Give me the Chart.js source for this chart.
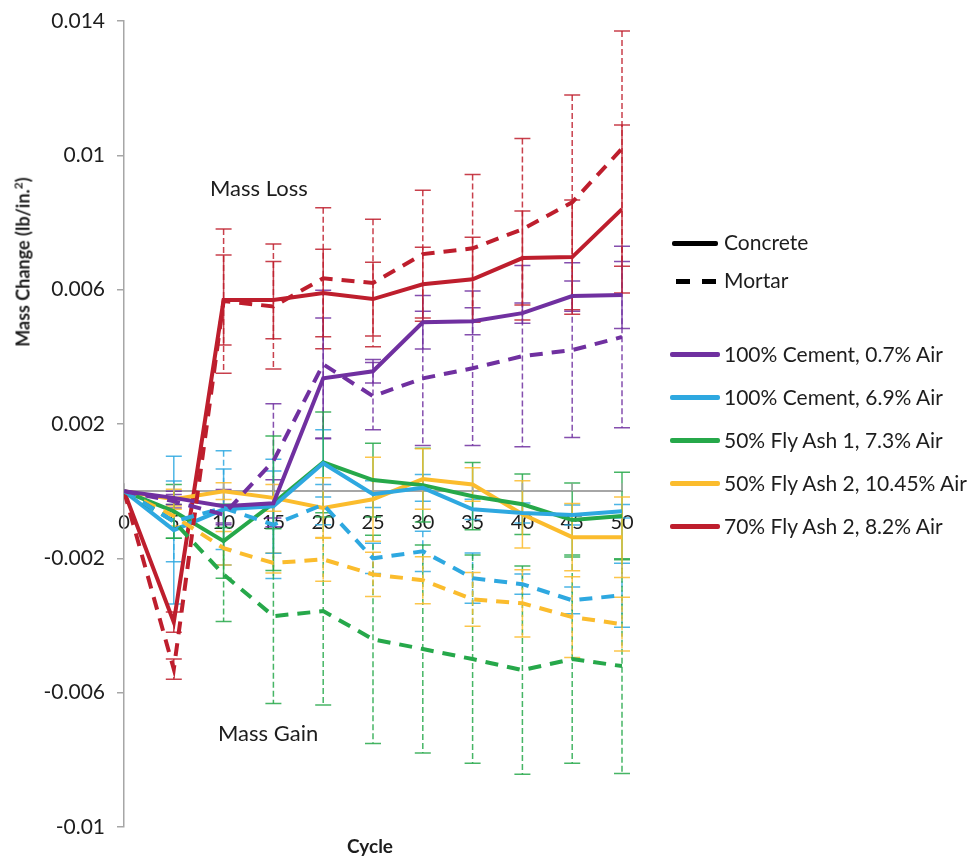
<!DOCTYPE html>
<html>
<head>
<meta charset="utf-8">
<script src="https://cdn.jsdelivr.net/npm/chart.js@4.4.1/dist/chart.umd.min.js"></script>
<style>
  body { margin: 0; background: #fff; font-family: Lato, sans-serif; color: #1d1d1d; }
  #wrap { position: relative; width: 974px; height: 858px; }
  .lbl { position: absolute; white-space: nowrap; font-size: 21px; }
  .key { position: absolute; height: 5px; border-radius: 2px; }
</style>
</head>
<body>
<div id="wrap">
  <canvas id="chart" width="974" height="858"></canvas>
  <div class="lbl" style="left:210px; top:174px; font-size:22px;">Mass Loss</div>
  <div class="lbl" style="left:218px; top:719px; font-size:22px;">Mass Gain</div>
  <div class="lbl" style="left:347px; top:834px; font-weight:bold; font-size:19px;">Cycle</div>
  <div class="lbl" id="ytitle" style="left:22px; top:262px; font-weight:bold; font-size:18px; transform: translate(-50%,-50%) rotate(-90deg);">Mass Change (lb/in.<sup style="font-size:12px">2</sup>)</div>
  <div id="legend"></div>
</div>
<script>
// cycles
const cycles = [0, 5, 10, 15, 20, 25, 30, 35, 40, 45, 50];

const mixes = ['100% Cement, 0.7% Air', '100% Cement, 6.9% Air', '50% Fly Ash 1, 7.3% Air', '50% Fly Ash 2, 10.45% Air', '70% Fly Ash 2, 8.2% Air'];
const colors = ['#7030A0', '#2EA8E0', '#26A84A', '#FBBC2D', '#BE1E2D'];

// concrete (solid) mass change, lb/in.^2
const concC07 = [0, -0.0002, -0.00045, -0.00036, 0.00336, 0.00357, 0.00503, 0.00506, 0.0053, 0.00581, 0.00584];
const concC69 = [0, -0.00116, -0.00054, -0.00045, 0.00083, -0.00009, 0.0001, -0.00054, -0.00065, -0.00071, -0.0006];
const concFA1 = [0, -0.0006, -0.00149, -0.00036, 0.00086, 0.00033, 0.00018, -0.00015, -0.00039, -0.00086, -0.00074];
const concFA2 = [0, -0.00024, 0, -0.0002, -0.0005, -0.00024, 0.00036, 0.0002, -0.00069, -0.00137, -0.00137];
const concFA70 = [0, -0.0039, 0.00569, 0.00569, 0.0059, 0.00572, 0.00616, 0.00631, 0.00694, 0.00697, 0.0084];

// concrete error bars (+/-)
const errC07 = [0, 0.0002, 0.0005, 0.0007, 0.0018, 0.00035, 0.0008, 0.0004, 0.0003, 0.00045, 0.001];
const errC69 = [0, 0.0022, 0.0012, 0.0014, 0.001, 0.0004, 0.0004, 0.0003, 0.0003, 0.0003, 0.0002];
const errFA1 = [0, 0.0008, 0.0011, 0.002, 0.0015, 0.0011, 0.0011, 0.001, 0.0009, 0.0011, 0.0013];
const errFA2 = [0, 0.0003, 0.00025, 0.0004, 0.0009, 0.00125, 0.0009, 0.0005, 0.001, 0.001, 0.0012];
const errFA70 = [0, 0.0003, 0.00134, 0.00115, 0.0013, 0.0011, 0.0011, 0.00125, 0.0014, 0.0017, 0.0025];

// mortar (dashed)
const mortC07 = [0, -0.0003, -0.0007, 0.0009, 0.00378, 0.00283, 0.00336, 0.00366, 0.00402, 0.0042, 0.00459];
const mortC69 = [0, -0.0009, -0.0005, -0.001, -0.0004, -0.002, -0.00179, -0.00259, -0.00277, -0.00325, -0.0031];
const mortFA1 = [0, -0.0009, -0.00248, -0.00372, -0.00357, -0.00441, -0.0047, -0.005, -0.00533, -0.005, -0.00521];
const mortFA2 = [0, -0.00074, -0.0017, -0.00214, -0.00203, -0.00248, -0.00265, -0.00322, -0.00334, -0.00375, -0.00396];
const mortFA70 = [0, -0.0053, 0.00566, 0.0055, 0.00634, 0.0062, 0.00706, 0.00723, 0.0078, 0.0086, 0.0102];

const errMC07 = [0, 0.0002, 0.0003, 0.0017, 0.0022, 0.001, 0.002, 0.0023, 0.0027, 0.0026, 0.0027];
const errMC69 = [0, 0.0012, 0.0017, 0.0016, 0.0006, 0.00045, 0.0006, 0.00075, 0.0003, 0.0004, 0.00095];
const errMFA1 = [0, 0.0005, 0.0014, 0.0026, 0.0028, 0.0031, 0.0031, 0.0031, 0.0031, 0.0031, 0.0032];
const errMFA2 = [0, 0.0003, 0.0005, 0.0003, 0.00065, 0.00066, 0.0007, 0.0008, 0.001, 0.0012, 0.0008];
const errMFA70 = [0, 0.0003, 0.00215, 0.00186, 0.0021, 0.0019, 0.0019, 0.0022, 0.0027, 0.0032, 0.0035];

// y axis ticks
const yTicks = [-0.01, -0.006, -0.002, 0.002, 0.006, 0.01, 0.014];

const concrete = [concC07, concC69, concFA1, concFA2, concFA70];
const concErr = [errC07, errC69, errFA1, errFA2, errFA70];
const mortar = [mortC07, mortC69, mortFA1, mortFA2, mortFA70];
const mortErr = [errMC07, errMC69, errMFA1, errMFA2, errMFA70];

const pts = arr => arr.map((v, i) => ({ x: cycles[i], y: v }));

const datasets = [];
mixes.forEach((m, i) => {
    datasets.push({ label: m + ' (mortar)', data: pts(mortar[i]), errors: mortErr[i], borderColor: colors[i],
        borderDash: [13, 9], borderWidth: 4, pointRadius: 0, tension: 0 });
});
mixes.forEach((m, i) => {
    datasets.push({ label: m + ' (concrete)', data: pts(concrete[i]), errors: concErr[i], borderColor: colors[i],
        borderWidth: 4, pointRadius: 0, tension: 0 });
});

// error bars + upward x tick marks
const errorBars = {
    id: 'errorBars',
    beforeDatasetsDraw(chart) {
        const { ctx, scales: { x, y } } = chart;
        ctx.save();
        chart.data.datasets.forEach(ds => {
            const dashed = !!ds.borderDash;
            ctx.strokeStyle = ds.borderColor;
            ctx.lineWidth = 1.5;
            ctx.globalAlpha = 0.85;
            ds.data.forEach((p, i) => {
                const e = ds.errors[i];
                if (!e) return;
                const px = x.getPixelForValue(p.x);
                const top = y.getPixelForValue(p.y + e);
                const bot = y.getPixelForValue(p.y - e);
                ctx.setLineDash(dashed ? [6, 3] : []);
                ctx.beginPath();
                ctx.moveTo(px, top); ctx.lineTo(px, bot);
                ctx.stroke();
                ctx.setLineDash([]);
                ctx.beginPath();
                ctx.moveTo(px - 8, top); ctx.lineTo(px + 8, top);
                ctx.moveTo(px - 8, bot); ctx.lineTo(px + 8, bot);
                ctx.stroke();
            });
        });
        // x tick marks pointing up from the zero line
        ctx.globalAlpha = 1;
        ctx.strokeStyle = '#a6a6a6';
        ctx.lineWidth = 1.5;
        const y0 = y.getPixelForValue(0);
        x.ticks.forEach(t => {
            const px = x.getPixelForValue(t.value);
            ctx.beginPath();
            ctx.moveTo(px, y0); ctx.lineTo(px, y0 - 8);
            ctx.stroke();
        });
        ctx.restore();
    }
};

Chart.defaults.font.family = 'Lato, sans-serif';
Chart.defaults.color = '#1d1d1d';

// keep the plot area exactly where the layout padding puts it
const noPad = s => { s.paddingTop = 0; s.paddingBottom = 0; };

new Chart(document.getElementById('chart'), {
    type: 'line',
    data: { datasets },
    options: {
        responsive: false,
        animation: false,
        layout: { padding: { top: 21, right: 352, bottom: 31, left: 0 } },
        plugins: { legend: { display: false }, tooltip: { enabled: false } },
        scales: {
            x: {
                type: 'linear', min: 0, max: 50, position: { y: 0 },
                afterFit: noPad,
                ticks: { stepSize: 5, padding: 19, font: { size: 20 } },
                grid: { display: true, drawOnChartArea: false, drawTicks: false },
                border: { display: true, color: '#a6a6a6', width: 2 }
            },
            y: {
                type: 'linear', min: yTicks[0], max: yTicks[yTicks.length - 1],
                afterFit: s => { s.width = 124; noPad(s); },
                afterBuildTicks: s => { s.ticks = yTicks.map(v => ({ value: v })); },
                ticks: { font: { size: 21 }, padding: 12, callback: v => String(Number(v.toFixed(3))) },
                grid: { display: true, drawOnChartArea: false, drawTicks: true, tickLength: 7, color: '#a6a6a6', lineWidth: 1.5 },
                border: { display: true, color: '#a6a6a6', width: 1.5 }
            }
        }
    },
    plugins: [errorBars]
});

// legend
const legend = document.getElementById('legend');
let html = '';
html += '<div class="key" style="left:672px; top:241px; width:46px; background:#000;"></div>';
html += '<div class="lbl" style="left:724px; top:229px;">Concrete</div>';
html += '<div class="key" style="left:676px; top:279px; width:14px; background:#000; border-radius:0;"></div>';
html += '<div class="key" style="left:702px; top:279px; width:14px; background:#000; border-radius:0;"></div>';
html += '<div class="lbl" style="left:724px; top:267px;">Mortar</div>';
mixes.forEach((m, i) => {
    const top = 355 + i * 43;
    html += '<div class="key" style="left:670px; top:' + (top - 3) + 'px; width:50px; background:' + colors[i] + ';"></div>';
    html += '<div class="lbl" style="left:724px; top:' + (top - 14) + 'px;">' + m + '</div>';
});
legend.innerHTML = html;
</script>
</body>
</html>
